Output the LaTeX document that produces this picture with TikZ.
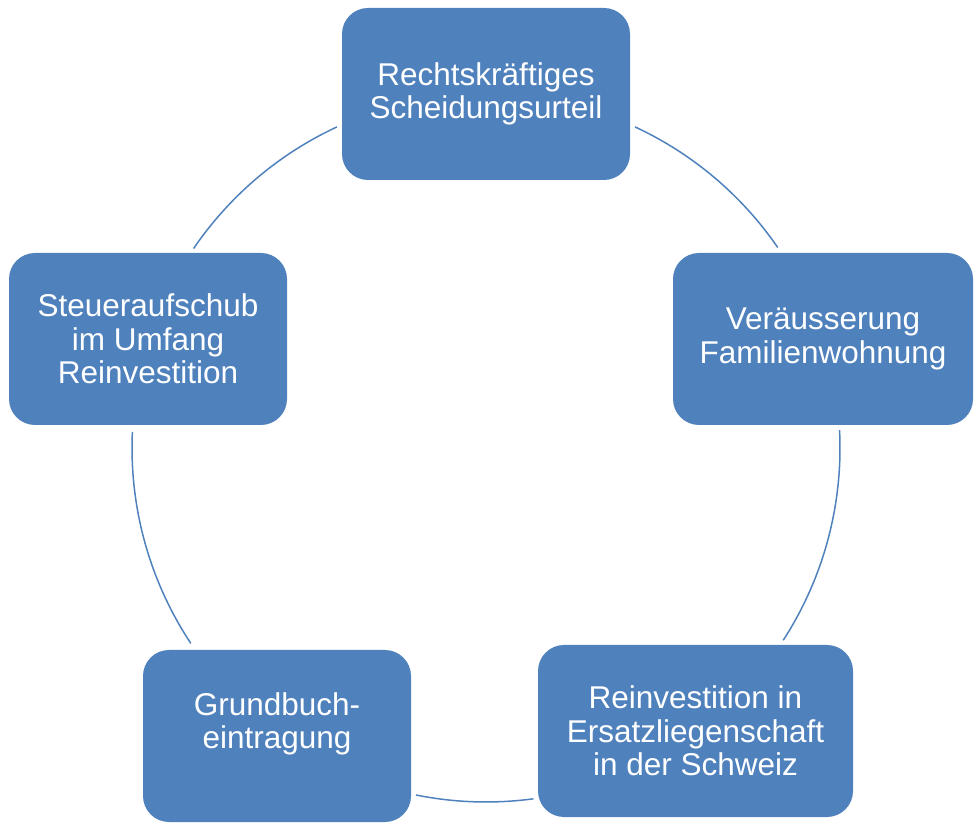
\documentclass[tikz,border=0pt]{standalone}
\usepackage{fontspec}
\setmainfont{Liberation Sans}
\definecolor{accent}{HTML}{4F81BD}
\begin{document}
\begin{tikzpicture}[x=1pt,y=1pt,
  box/.style={draw=none, fill=accent, rounded corners=26pt, minimum height=172pt,
    text=white, align=center, inner sep=0pt,
    font=\fontsize{31.5pt}{33.5pt}\selectfont},
  boxtext/.style={text=white, align=center, inner sep=0pt,
    font=\fontsize{31.5pt}{33.5pt}\selectfont},
  conn/.style={draw=accent, line width=1.5pt}]
\useasboundingbox (0,0) rectangle (974,822);
\coordinate (c) at (486,374);
% boxes
\node[box, minimum width=288pt] (n1) at (486,728) {Rechtskräftiges\\Scheidungsurteil};
\node[box, minimum width=300pt] (n2) at (823,483) {Veräusserung\\Familienwohnung};
\node[box, minimum width=315pt] (n3) at (695.5,91) {Reinvestition in\\Ersatzliegenschaft\\in der Schweiz};
\node[box, minimum width=268pt] (n4) at (277,86) {};
\node[boxtext] (n4t) at (277,98) {Grundbuch-\\eintragung};
\node[box, minimum width=278pt] (n5) at (148,483) {Steueraufschub\\im Umfang\\Reinvestition};
% arc end points on the cycle circle
\coordinate (a12) at ([shift={(65.1:354pt)}]c);
\coordinate (a23) at ([shift={(2.9:354pt)}]c);
\coordinate (a34) at ([shift={(-82.3:354pt)}]c);
\coordinate (a45) at ([shift={(-146.5:354pt)}]c);
\coordinate (a51) at ([shift={(145.7:354pt)}]c);
% connectors
\draw[conn] (a12) arc[start angle=65.1, end angle=34.5, radius=354pt];
\draw[conn] (a23) arc[start angle=2.9, end angle=-32.9, radius=354pt];
\draw[conn] (a34) arc[start angle=-82.3, end angle=-101.4, radius=354pt];
\draw[conn] (a45) arc[start angle=-146.5, end angle=-182.6, radius=354pt];
\draw[conn] (a51) arc[start angle=145.7, end angle=114.9, radius=354pt];
\end{tikzpicture}
\end{document}
